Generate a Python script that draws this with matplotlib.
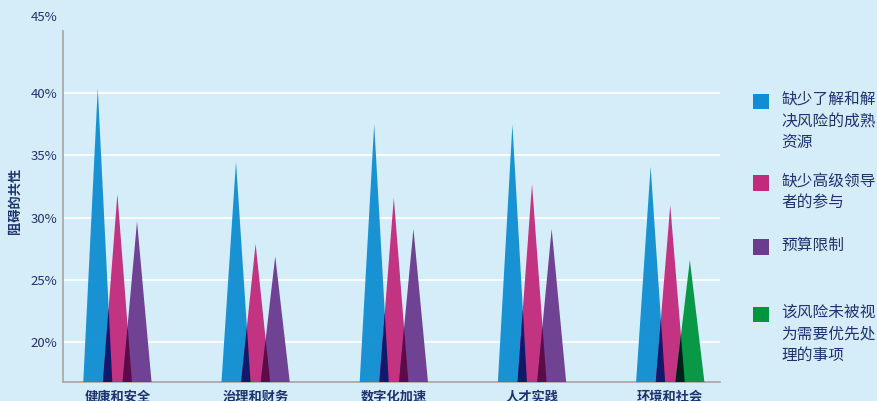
import matplotlib
matplotlib.use("Agg")  # headless rendering
import matplotlib.pyplot as plt
from matplotlib.patches import Polygon, Rectangle
import numpy as np

plt.rcParams["font.family"] = ["Noto Sans CJK SC", "DejaVu Sans"]

# ------------------------------------------------------------------
# Data (percent of respondents)
# ------------------------------------------------------------------
categories = ["健康和安全", "治理和财务", "数字化加速", "人才实践", "环境和社会"]
lack_resources = [40.4, 34.5, 37.5, 37.5, 34.1]
lack_leadership = [31.9, 27.9, 31.6, 32.7, 31.0]
budget_limits = [29.7, 26.9, 29.1, 29.1, None]
not_priority = [None, None, None, None, 26.6]

legend_labels = [
    "缺少了解和解\n决风险的成熟\n资源",
    "缺少高级领导\n者的参与",
    "预算限制",
    "该风险未被视\n为需要优先处\n理的事项",
]
yticks = [20, 25, 30, 35, 40]

BG = "#d5ecf9"
NAVY_TXT = "#1d3470"
colours = ["#118ed3", "#c22b7d", "#6b3b8f", "#00963e"]
# darker tones where neighbouring triangles overlap
overlap_colours = {(0, 1): "#10196b", (1, 2): "#5d0a48", (1, 3): "#00211b"}

Y0, Y1 = 16.8, 45
OFFSET = 0.142   # distance between triangle centres in a group
HALF_W = 0.105   # half of a triangle's base width

fig = plt.figure(figsize=(8.78, 4.01), dpi=100)
fig.patch.set_facecolor(BG)
ax = fig.add_axes([63.5 / 878, 19 / 401, (720 - 63.5) / 878, (382 - 31) / 401])
ax.set_facecolor(BG)

series = [lack_resources, lack_leadership, budget_limits, not_priority]
slot_of = [0, 1, 2, 2]

for g in range(len(categories)):
    peaks = {}
    for si, vals in enumerate(series):
        v = vals[g]
        if v is None:
            continue
        c = g + (slot_of[si] - 1) * OFFSET
        peaks[si] = (c, v)
        tri = Polygon([(c - HALF_W, Y0), (c, v), (c + HALF_W, Y0)],
                      closed=True, facecolor=colours[si], edgecolor="none",
                      alpha=0.96, zorder=3)
        ax.add_patch(tri)
    # overlap areas between neighbours
    for (a, b), oc in overlap_colours.items():
        if a not in peaks or b not in peaks:
            continue
        ca, ha = peaks[a]
        cb, hb = peaks[b]
        xl, xr = cb - HALF_W, ca + HALF_W
        # intersection of A's right edge and B's left edge
        sa = (ha - Y0) / HALF_W
        sb = (hb - Y0) / HALF_W
        xi = (sa * (ca + HALF_W) + sb * (cb - HALF_W)) / (sa + sb)
        yi = Y0 + sa * (ca + HALF_W - xi)
        ax.add_patch(Polygon([(xl, Y0), (xi, yi), (xr, Y0)], closed=True,
                             facecolor=oc, edgecolor="none", zorder=4))

ax.set_xlim(-0.39, 4.36)
ax.set_ylim(Y0, Y1)
ax.set_yticks(yticks)
ax.set_yticklabels([f"{t}%" for t in yticks])
ax.set_xticks(range(len(categories)))
ax.set_xticklabels(categories, fontweight="bold")
ax.tick_params(axis="y", length=0, pad=4.5, labelsize=9.5, labelcolor=NAVY_TXT)
ax.tick_params(axis="x", length=0, pad=5.5, labelsize=9.5, labelcolor=NAVY_TXT)
ax.grid(axis="y", color="white", linewidth=1.3, zorder=1)
ax.set_axisbelow(True)

for side in ("top", "right"):
    ax.spines[side].set_visible(False)
for side in ("left", "bottom"):
    ax.spines[side].set_color("#a9a9a9")
    ax.spines[side].set_linewidth(1.3)

# top tick label sits above the axis
ax.annotate("45%", xy=(0, 1), xycoords="axes fraction", xytext=(-4.5, 9.5),
            textcoords="offset points", ha="right", va="center",
            fontsize=9.5, color=NAVY_TXT)

fig.text(15 / 878, 0.5, "阻碍的共性", rotation=90, ha="center", va="center",
         fontsize=9.5, fontweight="bold", color=NAVY_TXT)

# ---- legend (drawn by hand) ----
legend_y = [101.5, 183, 247, 314.5]
for lab, yc, col in zip(legend_labels, legend_y, colours):
    fig.patches.append(Rectangle((753.3 / 878, 1 - (yc + 7.8) / 401),
                                 15.7 / 878, 15.7 / 401,
                                 transform=fig.transFigure, facecolor=col,
                                 edgecolor="none"))
    fig.text(781.5 / 878, 1 - (yc - 10.5) / 401, lab, ha="left", va="top",
             fontsize=11.3, color=NAVY_TXT, linespacing=1.35)

plt.savefig("out.png", dpi=100, facecolor=fig.get_facecolor())
plt.close(fig)
